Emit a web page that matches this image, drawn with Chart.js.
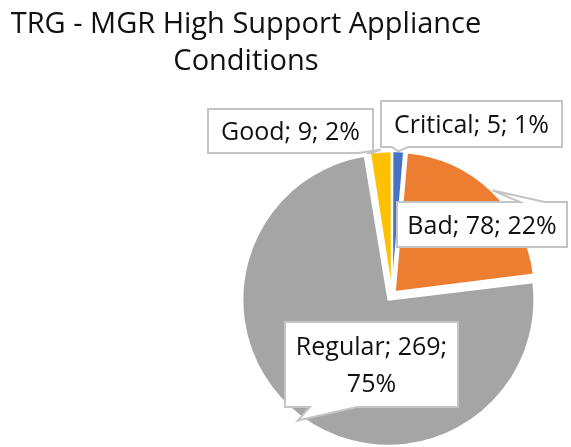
<!DOCTYPE html>
<html>
<head>
<meta charset="utf-8">
<script src="https://cdn.jsdelivr.net/npm/chart.js@4.4.1/dist/chart.umd.min.js"></script>
<style>
  html, body { margin: 0; padding: 0; background: #fff; }
  canvas { display: block; }
</style>
</head>
<body>
<canvas id="chart" width="571" height="447"></canvas>
<script>
const titleLines = ['TRG - MGR High Support Appliance', 'Conditions'];
const categories = ['Critical', 'Bad', 'Regular', 'Good'];
const counts = [5, 78, 269, 9];
const sliceColors = ['#4472C4', '#ED7D31', '#A5A5A5', '#FFC000'];
const sliceOffsets = [8, 16, 24, 8];

// callout boxes (canvas px); tail sits on one edge, between a and b, and points at the slice rim
const callouts = [
  { x: 381, y: 101, w: 181, h: 46, edge: 'bottom', a: 392, b: 408, reach: 0 },
  { x: 397, y: 202, w: 170, h: 45, edge: 'top', a: 520, b: 545, reach: 1 },
  { x: 285, y: 322, w: 173, h: 85, edge: 'bottom', a: 310, b: 357, reach: 5, wrap: true },
  { x: 208, y: 109, w: 165, h: 44, edge: 'bottom', a: 358, b: 371, reach: 2 },
];

const FONT = '"Open Sans", "Noto Sans", sans-serif';
const total = counts.reduce((s, v) => s + v, 0);

function labelLines(i) {
  const pct = Math.round(counts[i] / total * 100) + '%';
  if (callouts[i].wrap) {
    return [`${categories[i]}; ${counts[i]};`, pct];
  }
  return [`${categories[i]}; ${counts[i]}; ${pct}`];
}

// point on the rim of a slice, same shift/grow as ArcElement.draw applies for offset
function rimPoint(arc, reach) {
  const mid = (arc.startAngle + arc.endAngle) / 2;
  const shift = (arc.options.offset || 0) / 4;
  const circ = arc.endAngle - arc.startAngle;
  const grow = shift * (1 - Math.sin(Math.min(Math.PI, circ)));
  const r = arc.outerRadius + grow + shift + reach;
  return { x: arc.x + Math.cos(mid) * r, y: arc.y + Math.sin(mid) * r };
}

function calloutPath(ctx, c, tip) {
  const { x, y, w, h } = c;
  ctx.beginPath();
  ctx.moveTo(x, y);
  if (c.edge === 'top') {
    ctx.lineTo(c.a, y);
    ctx.lineTo(tip.x, tip.y);
    ctx.lineTo(c.b, y);
  }
  ctx.lineTo(x + w, y);
  ctx.lineTo(x + w, y + h);
  if (c.edge === 'bottom') {
    ctx.lineTo(c.b, y + h);
    ctx.lineTo(tip.x, tip.y);
    ctx.lineTo(c.a, y + h);
  }
  ctx.lineTo(x, y + h);
  ctx.closePath();
}

const titlePlugin = {
  id: 'titleText',
  afterDraw(chart) {
    const ctx = chart.ctx;
    ctx.save();
    ctx.fillStyle = '#111111';
    ctx.font = `29px ${FONT}`;
    ctx.textAlign = 'center';
    ctx.textBaseline = 'alphabetic';
    ctx.fillText(titleLines[0], 246, 33);
    ctx.fillText(titleLines[1], 246, 70);
    ctx.restore();
  }
};

const calloutPlugin = {
  id: 'callouts',
  afterDatasetsDraw(chart) {
    const ctx = chart.ctx;
    const arcs = chart.getDatasetMeta(0).data;
    ctx.save();
    callouts.forEach((c, i) => {
      const tip = rimPoint(arcs[i], c.reach);
      calloutPath(ctx, c, tip);
      ctx.fillStyle = '#ffffff';
      ctx.fill();
      ctx.lineWidth = 2;
      ctx.lineJoin = 'miter';
      ctx.strokeStyle = '#c4c4c4';
      ctx.stroke();

      const lines = labelLines(i);
      const lineGap = 37;
      const cx = c.x + c.w / 2;
      const cy = c.y + c.h / 2;
      ctx.fillStyle = '#111111';
      ctx.font = `25px ${FONT}`;
      ctx.textAlign = 'center';
      ctx.textBaseline = 'alphabetic';
      lines.forEach((t, k) => {
        const ly = cy + (k - (lines.length - 1) / 2) * lineGap + 9;
        ctx.fillText(t, cx, ly);
      });
    });
    ctx.restore();
  }
};

new Chart(document.getElementById('chart'), {
  type: 'pie',
  data: {
    labels: categories,
    datasets: [{
      data: counts,
      backgroundColor: sliceColors,
      borderColor: '#ffffff',
      borderWidth: 2,
      offset: sliceOffsets,
    }]
  },
  options: {
    responsive: false,
    animation: false,
    events: [],
    radius: 140,
    layout: { padding: { left: 213, top: 143, right: 0, bottom: 0 } },
    plugins: {
      legend: { display: false },
      tooltip: { enabled: false },
      title: { display: false },
    }
  },
  plugins: [titlePlugin, calloutPlugin]
});
</script>
</body>
</html>
